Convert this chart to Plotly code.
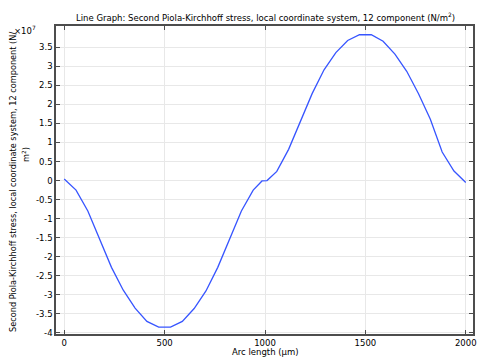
import plotly.graph_objects as go

# Arc length (µm)
arc_length = [0, 58.8, 117.6, 176.5, 235.3, 294.1, 352.9, 411.8, 470.6, 529.4,
              588.2, 647.1, 705.9, 764.7, 823.5, 882.4, 941.2, 985, 1010,
              1058.8, 1117.6, 1176.5, 1235.3, 1294.1, 1352.9, 1411.8, 1470.6,
              1529.4, 1588.2, 1647.1, 1705.9, 1764.7, 1823.5, 1882.4, 1941.2, 2000]
# Stress S12 in units of 1e7 N/m^2
stress_e7 = [0.04, -0.25, -0.80, -1.55, -2.28, -2.88, -3.35, -3.70, -3.85, -3.85,
             -3.70, -3.36, -2.90, -2.28, -1.53, -0.80, -0.25, -0.01, 0.0,
             0.24, 0.82, 1.57, 2.29, 2.91, 3.36, 3.68, 3.83,
             3.83, 3.66, 3.32, 2.87, 2.28, 1.61, 0.75, 0.25, -0.05]

x_ticks = [0, 500, 1000, 1500, 2000]
y_ticks = [-4, -3.5, -3, -2.5, -2, -1.5, -1, -0.5, 0, 0.5, 1, 1.5, 2, 2.5, 3, 3.5]
y_ticklabels = ["-4", "-3.5", "-3", "-2.5", "-2", "-1.5", "-1", "-0.5", "0",
                "0.5", "1", "1.5", "2", "2.5", "3", "3.5"]

FONT = "DejaVu Sans"
FS = 8.5
W, H = 480, 363
ML, MR, MT, MB = 56, 7, 26, 29
PW = W - ML - MR
PH = H - MT - MB


def px(x, y):
    return (x - ML) / PW, 1 - (y - MT) / PH


def label(text, x, y, angle=0, xanchor="center", size=FS):
    X, Y = px(x, y)
    return dict(text=text, x=X, y=Y, xref="paper", yref="paper", showarrow=False,
                textangle=angle, xanchor=xanchor, yanchor="middle",
                font=dict(family=FONT, size=size, color="#000"))


fig = go.Figure()
fig.add_trace(go.Scatter(x=arc_length, y=stress_e7, mode="lines",
                         line=dict(color="rgb(55,85,255)", width=1.3),
                         showlegend=False, hoverinfo="skip"))

axis_common = dict(showline=True, linecolor="#4d4d4d", linewidth=1.5, mirror="ticks",
                   ticks="inside", ticklen=4, tickcolor="#4d4d4d",
                   showgrid=True, gridcolor="#e8e8e8", gridwidth=1,
                   zeroline=False, automargin=False,
                   tickfont=dict(family=FONT, size=FS, color="#000"))

fig.update_layout(
    width=W, height=H,
    margin=dict(l=ML, r=MR, t=MT, b=MB, autoexpand=False),
    paper_bgcolor="white", plot_bgcolor="white",
    xaxis=dict(range=[-41, 2036], tickvals=x_ticks, **axis_common),
    yaxis=dict(range=[-4.03, 4.06], tickvals=y_ticks, ticktext=y_ticklabels, **axis_common),
    annotations=[
        label("Line Graph: Second Piola-Kirchhoff stress, local coordinate system, 12 component (N/m<sup>2</sup>)", 265, 17),
        label("Arc length (µm)", 265, 352),
        label("Second Piola-Kirchhoff stress, local coordinate system, 12 component (N/", 13, 182, angle=-90, size=8.2),
        label("m<sup>2</sup>)", 26, 155, angle=-90, size=8.2),
        label("×10<sup>7</sup>", 38, 30, xanchor="right"),
    ],
)

fig.write_html("out.html", config={"displayModeBar": False},
               post_script="document.body.style.margin='0';document.body.style.overflow='hidden';")
